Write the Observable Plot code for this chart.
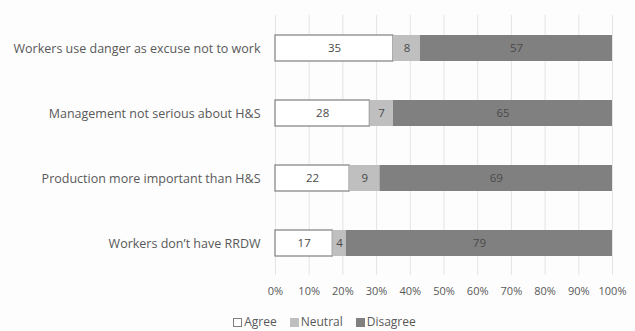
<!DOCTYPE html>
<html><head><meta charset="utf-8">
<script src="https://cdn.jsdelivr.net/npm/d3@7"></script>
<script src="https://cdn.jsdelivr.net/npm/@observablehq/plot@0.6"></script>
<style>
body{margin:0;background:#fdfdfd;font-family:"Open Sans",sans-serif;overflow:hidden;}
#legend{display:flex;justify-content:center;gap:13px;font-size:12px;line-height:14px;height:14px;color:#595959;margin-left:14px;margin-top:15px;}
#legend span{display:inline-flex;align-items:center;}
#legend i{display:inline-block;width:9px;height:9px;margin-right:2px;box-sizing:border-box;}
</style></head>
<body><div id="chart"></div><div id="legend"></div>
<script>
const items = ["Workers use danger as excuse not to work","Management not serious about H&S","Production more important than H&S","Workers don\u2019t have RRDW"];
const series = ["Agree","Neutral","Disagree"];
const agree = [35,28,22,17];
const neutral = [8,7,9,4];
const disagree = [57,65,69,79];
const ticks = [0,10,20,30,40,50,60,70,80,90,100];
const colors = ["#ffffff","#bfbfbf","#808080"];

const data = [];
items.forEach((it,i)=>{
  data.push({item:it,series:"Agree",value:agree[i]});
  data.push({item:it,series:"Neutral",value:neutral[i]});
  data.push({item:it,series:"Disagree",value:disagree[i]});
});

const plot = Plot.plot({
  width:635, height:300,
  marginLeft:275, marginRight:23, marginTop:15, marginBottom:25,
  style:{fontFamily:"Open Sans, sans-serif", fontSize:"11px", color:"#595959", background:"transparent", display:"block"},
  x:{domain:[0,100], ticks:ticks, tickFormat:d=>d+"%", label:null},
  y:{domain:items, paddingInner:0.6, paddingOuter:0.3, label:null},
  color:{domain:series, range:colors},
  marks:[
    Plot.ruleX(ticks,{stroke:"#e4e4e4", strokeWidth:1}),
    Plot.barX(data, Plot.stackX({x:"value", y:"item", fill:"series", z:"series", order:series,
      stroke:d=>d.series==="Agree"?"#7f7f7f":"none", strokeWidth:1.2, inset:0})),
    Plot.text(data, Plot.stackX({x:"value", y:"item", z:"series", text:"value", order:series, fill:"#4a4a4a", fontSize:11.5})),
    Plot.axisX({ticks:ticks, tickFormat:d=>d+"%", tickSize:0, tickPadding:12, fill:"#595959", fontSize:11, label:null}),
    Plot.axisY({tickSize:0, tickPadding:15, fill:"#595959", fontSize:12.5, label:null})
  ]
});
document.getElementById("chart").appendChild(plot);

const lg = document.getElementById("legend");
series.forEach((s,i)=>{
  const sp=document.createElement("span");
  const sw=document.createElement("i");
  sw.style.background=colors[i];
  if(i===0) sw.style.border="1px solid #7f7f7f";
  sp.appendChild(sw);
  sp.appendChild(document.createTextNode(s));
  lg.appendChild(sp);
});
</script></body></html>
